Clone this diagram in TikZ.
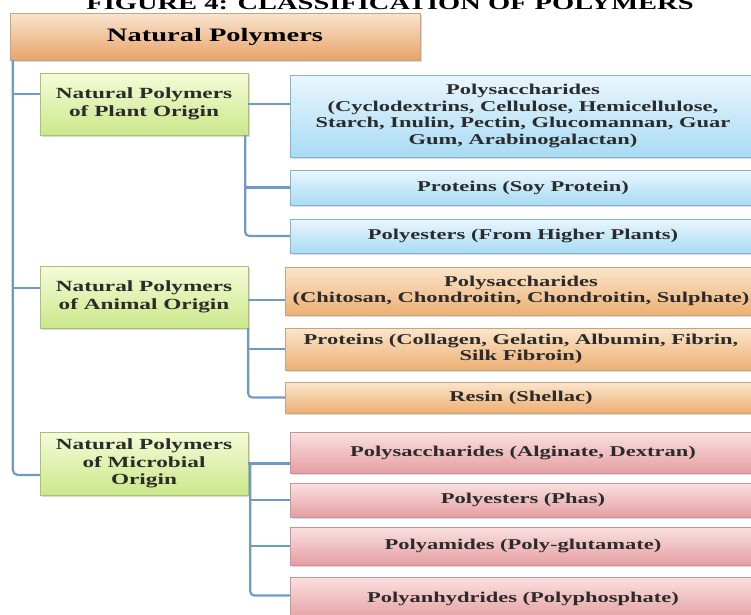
\documentclass[tikz,border=0pt]{standalone}
\usepackage{fontspec}
\setmainfont[FakeStretch=1.5]{Liberation Serif}
\usepackage{tikz}
\usetikzlibrary{shadows}
\definecolor{linkblue}{HTML}{6E9BC6}
\definecolor{textgray}{HTML}{2B2B2B}
\definecolor{roottop}{HTML}{F9E4CF}
\definecolor{rootbot}{HTML}{E8A46A}
\definecolor{rootedge}{HTML}{C9A27E}
\definecolor{origtop}{HTML}{F6FBD8}
\definecolor{origbot}{HTML}{CBE88A}
\definecolor{origedge}{HTML}{A9BF7A}
\definecolor{plnttop}{HTML}{EAF6FD}
\definecolor{plntbot}{HTML}{A8DBF4}
\definecolor{plntedge}{HTML}{86B3CE}
\definecolor{animtop}{HTML}{FBE6CB}
\definecolor{animbot}{HTML}{EDAF73}
\definecolor{animedge}{HTML}{C9A27E}
\definecolor{micrtop}{HTML}{FAE1E1}
\definecolor{micrbot}{HTML}{E59EA2}
\definecolor{micredge}{HTML}{C59598}
\tikzstyle{boxbase} = [rectangle, inner sep=0pt, align=center, text=textgray, drop shadow={shadow xshift=1.5pt, shadow yshift=-1.5pt, opacity=0.3}]
\tikzstyle{rootbox} = [boxbase, draw=rootedge, top color=roottop, bottom color=rootbot, text=black, font=\fontsize{19}{22}\selectfont\bfseries]
\tikzstyle{orig} = [boxbase, draw=origedge, top color=origtop, bottom color=origbot, minimum width=208, font=\fontsize{15.5}{17.7}\selectfont\bfseries]
\tikzstyle{plnt} = [boxbase, draw=plntedge, top color=plnttop, bottom color=plntbot, minimum width=466, font=\fontsize{15}{16.7}\selectfont\bfseries]
\tikzstyle{anim} = [boxbase, draw=animedge, top color=animtop, bottom color=animbot, minimum width=472, font=\fontsize{15}{16.7}\selectfont\bfseries]
\tikzstyle{micr} = [boxbase, draw=micredge, top color=micrtop, bottom color=micrbot, minimum width=466, font=\fontsize{15}{16.7}\selectfont\bfseries]
\tikzstyle{link} = [draw=linkblue, line width=2.2pt]

\begin{document}
\begin{tikzpicture}[x=1pt,y=-1pt]
    \clip (0,0) rectangle (751,614);
    \node (Title) [anchor=base, font=\fontsize{19}{22}\selectfont\bfseries] at (390,9) {FIGURE 4: CLASSIFICATION OF POLYMERS};
    \node (NP) [rootbox, minimum width=410, minimum height=47] at (215,36.5) {Natural Polymers};
    \node (Plant) [orig, minimum height=62] at (144,104) {Natural Polymers\\of Plant Origin};
    \node (Animal) [orig, minimum height=62] at (144,297) {Natural Polymers\\of Animal Origin};
    \node (Microbe) [orig, minimum height=63] at (144,463.5) {Natural Polymers\\of Microbial\\Origin};
    \node (PlPoly) [plnt, minimum height=82] at (523,116) {Polysaccharides\\(Cyclodextrins, Cellulose, Hemicellulose,\\Starch, Inulin, Pectin, Glucomannan, Guar\\Gum, Arabinogalactan)};
    \node (PlProt) [plnt, minimum height=35] at (523,187.5) {Proteins (Soy Protein)};
    \node (PlEst) [plnt, minimum height=34] at (523,236) {Polyesters (From Higher Plants)};
    \node (AnPoly) [anim, minimum height=48] at (521,291) {Polysaccharides\\(Chitosan, Chondroitin, Chondroitin, Sulphate)};
    \node (AnProt) [anim, minimum height=42] at (521,349) {Proteins (Collagen, Gelatin, Albumin, Fibrin,\\Silk Fibroin)};
    \node (AnRes) [anim, minimum height=31] at (521,397.5) {Resin (Shellac)};
    \node (MiPoly) [micr, minimum height=41] at (523,452.5) {Polysaccharides (Alginate, Dextran)};
    \node (MiEst) [micr, minimum height=34] at (523,500) {Polyesters (Phas)};
    \node (MiAmid) [micr, minimum height=38] at (523,546) {Polyamides (Poly-glutamate)};
    \node (MiAnh) [micr, minimum height=43] at (523,598.5) {Polyanhydrides (Polyphosphate)};
    \coordinate (Trunk) at ([xshift=3pt]NP.south west);
    \coordinate (PlantIn) at ([yshift=10pt]Plant.west);
    \coordinate (AnimalIn) at ([yshift=9pt]Animal.west);
    \coordinate (MicrobeIn) at ([yshift=-11.5pt]Microbe.west);
    \coordinate (PlOut) at ([xshift=-3pt]Plant.south east);
    \coordinate (AnOut) at (Animal.south east);
    \coordinate (MiOut) at ([xshift=2pt]Microbe.east);
    \draw[link, rounded corners=5pt] (Trunk) |- (MicrobeIn);
    \draw[link] (Trunk |- PlantIn) -- (PlantIn);
    \draw[link] (Trunk |- AnimalIn) -- (AnimalIn);
    \draw[link] (Plant.east) -- (Plant.east -| PlPoly.west);
    \draw[link, rounded corners=4pt] (PlOut) |- (PlEst.west);
    \draw[link] (PlOut |- PlProt.west) -- (PlProt.west);
    \draw[link] ([yshift=-3pt]Animal.east) -- ([yshift=-3pt]Animal.east -| AnPoly.west);
    \draw[link, rounded corners=4pt] (AnOut) |- (AnRes.west);
    \draw[link] (AnOut |- AnProt.west) -- (AnProt.west);
    \draw[link] (Microbe.east) -- (Microbe.east -| MiPoly.west);
    \draw[link, rounded corners=4pt] (MiOut) |- ([yshift=3pt]MiAnh.west);
    \draw[link] (MiOut |- MiEst.west) -- (MiEst.west);
    \draw[link] (MiOut |- MiAmid.west) -- (MiAmid.west);
\end{tikzpicture}
\end{document}
